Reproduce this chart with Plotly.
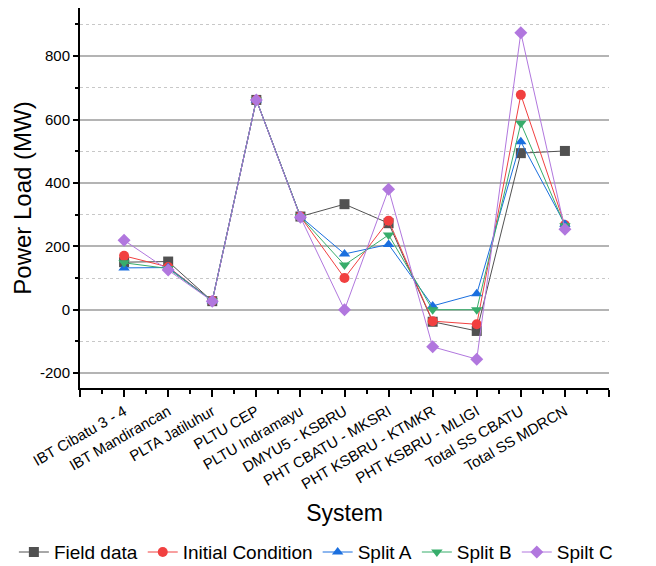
import plotly.graph_objects as go

categories = ["IBT Cibatu 3 - 4", "IBT Mandirancan", "PLTA Jatiluhur", "PLTU CEP",
              "PLTU Indramayu", "DMYU5 - KSBRU", "PHT CBATU - MKSRI", "PHT KSBRU - KTMKR",
              "PHT KSBRU - MLIGI", "Total SS CBATU", "Total SS MDRCN"]

field_data = [150, 152, 27, 662, 294, 333, 273, -38, -67, 494, 501]
initial_condition = [170, 135, 28, 662, 294, 100, 281, -36, -46, 678, 267]
split_a = [132, 133, 28, 662, 294, 176, 206, 12, 50, 530, 270]
split_b = [148, 130, 28, 662, 294, 141, 236, 0, 0, 588, 265]
spilt_c = [219, 125, 27, 662, 292, 0, 380, -117, -156, 874, 254]

y_tickvals = [-200, 0, 200, 400, 600, 800]
y_ticktext = ["-200", "0", "200", "400", "600", "800"]

series = [
    ("Field data", field_data, "#515151", "square"),
    ("Initial Condition", initial_condition, "#F14040", "circle"),
    ("Split A", split_a, "#1A6FDF", "triangle-up"),
    ("Split B", split_b, "#37AD6B", "triangle-down"),
    ("Spilt C", spilt_c, "#B177DE", "diamond"),
]

xpos = list(range(len(categories)))

fig = go.Figure()
for name, vals, color, sym in series:
    fig.add_trace(go.Scatter(
        x=xpos, y=vals, name=name, mode="lines+markers",
        line=dict(color=color, width=1),
        marker=dict(symbol=sym, size=10, color=color, line=dict(width=0)),
    ))

font = "Liberation Sans, Arial, sans-serif"
fig.update_layout(
    width=656, height=566,
    margin=dict(l=80, r=47, t=8, b=178, autoexpand=False),
    plot_bgcolor="white", paper_bgcolor="white",
    font=dict(family=font, size=15, color="black"),
    showlegend=True,
    legend=dict(orientation="h",
                x=-0.125, xanchor="left", y=-0.432, yanchor="middle",
                font=dict(size=19), itemwidth=30, tracegroupgap=0,
                bgcolor="rgba(0,0,0,0)"),
)

fig.update_xaxes(
    range=[-1, len(categories)],
    tickmode="array",
    tickvals=[-1] + xpos + [len(categories)],
    ticktext=[""] + categories + [""],
    tickangle=-30,
    tickfont=dict(size=15),
    ticks="outside", ticklen=7, tickwidth=1.5, tickcolor="black",
    showline=True, linecolor="black", linewidth=2,
    showgrid=False, zeroline=False,
    minor=dict(tickvals=[i + 0.5 for i in range(-1, len(categories))],
               ticks="outside", ticklen=4, tickwidth=1.5, tickcolor="black",
               showgrid=False),
    title=dict(text="System", font=dict(size=23), standoff=14),
)

fig.update_yaxes(
    range=[-247, 952],
    tickmode="array", tickvals=y_tickvals, ticktext=y_ticktext,
    tickfont=dict(size=15),
    ticks="outside", ticklen=5, tickwidth=1.5, tickcolor="black",
    showline=True, linecolor="black", linewidth=2,
    showgrid=True, gridcolor="#b4b4b4", gridwidth=1.5,
    zeroline=False,
    minor=dict(tickvals=[-100, 100, 300, 500, 700, 900], ticks="outside", ticklen=3,
               tickwidth=1.5, tickcolor="black", showgrid=True, gridcolor="#c8c8c8",
               griddash="dot", gridwidth=1),
    title=dict(text="Power Load (MW)", font=dict(size=24), standoff=2),
)

fig.write_html("out.html")
